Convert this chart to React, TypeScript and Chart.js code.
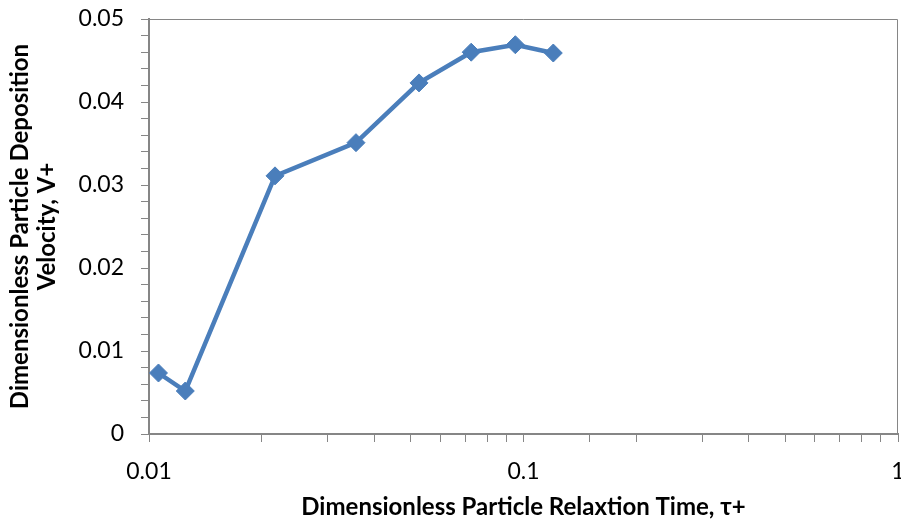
import React, { useEffect, useRef } from "react";
import { Chart, registerables } from "chart.js";

Chart.register(...registerables);

const relaxationTime = [0.0106, 0.0125, 0.0217, 0.0357, 0.0526, 0.0725, 0.0951, 0.1201];
const depositionVelocity = [0.00735, 0.00518, 0.0311, 0.0351, 0.0423, 0.046, 0.0469, 0.0459];
const xTitle = "Dimensionless Particle Relaxtion Time, τ+";
const yTitle = ["Dimensionless Particle Deposition", "Velocity, V+"];

const AXIS = "#868686";
const BLUE = "#4A7EBB";
const FONT = "Lato, 'Open Sans', sans-serif";
const CANVAS_W = 908;

const frame = {
  id: "frame",
  afterDraw(chart: any) {
    const { ctx, chartArea } = chart;
    ctx.save();
    ctx.strokeStyle = AXIS;
    ctx.lineWidth = 1;
    ctx.beginPath();
    ctx.moveTo(chartArea.left, chartArea.top + 0.5);
    ctx.lineTo(chartArea.right - 0.5, chartArea.top + 0.5);
    ctx.lineTo(chartArea.right - 0.5, chartArea.bottom);
    ctx.stroke();
    ctx.restore();
  },
};

export default function App() {
  const ref = useRef<HTMLCanvasElement>(null);
  useEffect(() => {
    document.body.style.margin = "0";
    const chart = new Chart(ref.current!, {
      type: "line",
      data: {
        datasets: [
          {
            data: relaxationTime.map((x, i) => ({ x, y: depositionVelocity[i] })),
            borderColor: BLUE,
            backgroundColor: BLUE,
            borderWidth: 4.5,
            pointStyle: "rectRot",
            pointRadius: 9,
            pointBorderWidth: 1,
            pointBorderColor: BLUE,
            pointBackgroundColor: BLUE,
            tension: 0,
          },
        ],
      },
      options: {
        animation: false,
        responsive: false,
        layout: { padding: { left: 0, right: 0, top: 19, bottom: 0 } },
        plugins: { legend: { display: false }, tooltip: { enabled: false } },
        scales: {
          x: {
            type: "logarithmic",
            min: 0.01,
            max: 1,
            afterFit(scale: any) {
              scale.height = 89;
              scale.paddingLeft = 0;
              scale.paddingRight = 0;
            },
            grid: { drawOnChartArea: false, drawTicks: true, tickLength: 8, color: AXIS, lineWidth: 1 },
            border: { display: true, color: AXIS, width: 2 },
            ticks: {
              autoSkip: false,
              maxRotation: 0,
              padding: 16,
              color: "#000",
              font: { family: FONT, size: 23 },
              callback(v: any) {
                const l = Math.log10(Number(v));
                if (Math.abs(l - Math.round(l)) < 1e-9) return String(Number(v));
                return "";
              },
            },
            title: {
              display: true,
              text: xTitle,
              color: "#000",
              font: { family: FONT, size: 24, weight: "bold", lineHeight: 1.15 },
              padding: { top: 0, bottom: 2 },
            },
          },
          y: {
            type: "linear",
            min: 0,
            max: 0.05,
            afterFit(scale: any) {
              scale.width = 149;
              scale.paddingTop = 0;
              scale.paddingBottom = 0;
            },
            grid: { drawOnChartArea: false, drawTicks: true, tickLength: 8, color: AXIS, lineWidth: 1 },
            border: { display: true, color: AXIS, width: 2 },
            ticks: {
              stepSize: 0.002,
              autoSkip: false,
              padding: 17,
              color: "#000",
              font: { family: FONT, size: 23 },
              callback(v: any) {
                const n = Number(v) * 100;
                if (Math.abs(n - Math.round(n)) < 1e-6) return String(Math.round(n) / 100);
                return "";
              },
            },
            title: {
              display: true,
              text: yTitle,
              color: "#000",
              font: { family: FONT, size: 24, weight: "bold", lineHeight: 1.15 },
              padding: { top: 6, bottom: 0 },
            },
          },
        },
      },
      plugins: [frame],
    } as any);
    return () => chart.destroy();
  }, []);
  return (
    <div style={{ position: "absolute", left: 0, top: 0, width: 901, height: 523, overflow: "hidden" }}>
      <canvas ref={ref} width={CANVAS_W} height={523} style={{ display: "block" }} />
    </div>
  );
}
